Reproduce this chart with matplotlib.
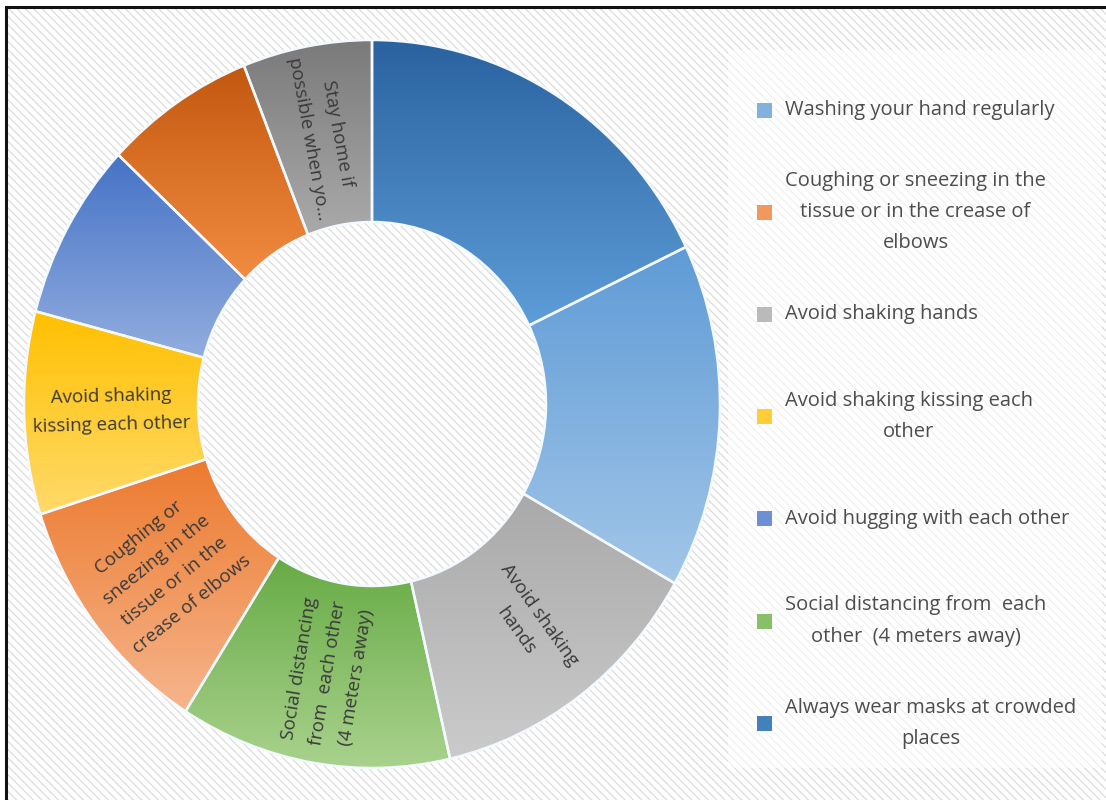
import numpy as np
import matplotlib
matplotlib.use("Agg")
import matplotlib.pyplot as plt
from matplotlib.patches import Rectangle
from matplotlib.colors import to_rgb

plt.rcParams["font.family"] = ["Open Sans", "DejaVu Sans"]
plt.rcParams["hatch.linewidth"] = 0.9

# Slices in drawing order, clockwise from 12 o'clock (shares in %)
slice_names = [
    "Always wear masks at crowded places",
    "Washing your hand regularly",
    "Avoid shaking hands",
    "Social distancing from  each other  (4 meters away)",
    "Coughing or sneezing in the tissue or in the crease of elbows",
    "Avoid shaking kissing each other",
    "Avoid hugging with each other",
    "Unlabelled",
    "Stay home if possible when you are sick",
]
slice_values = [17.9, 15.3, 13.2, 12.6, 11.1, 9.0, 7.9, 7.0, 6.0]

# Text written on the ring (None = no label on that slice)
slice_texts = [
    None,
    None,
    "Avoid shaking\nhands",
    "Social distancing\nfrom  each other\n(4 meters away)",
    "Coughing or\nsneezing in the\ntissue or in the\ncrease of elbows",
    "Avoid shaking\nkissing each other",
    None,
    None,
    "Stay home if\npossible when yo...",
]

# Legend entries (top to bottom)
legend_labels = [
    "Washing your hand regularly",
    "Coughing or sneezing in the\ntissue or in the crease of\nelbows",
    "Avoid shaking hands",
    "Avoid shaking kissing each\nother",
    "Avoid hugging with each other",
    "Social distancing from  each\nother  (4 meters away)",
    "Always wear masks at crowded\nplaces",
]
legend_slice = [1, 4, 2, 5, 6, 3, 0]

# Vertical gradient (top colour, bottom colour) for every slice
grad_top = ["#2a62a0", "#5f9bd6", "#a9a9a9", "#67ab45", "#ec7a2e",
            "#ffc000", "#4673c6", "#c2580f", "#7a7a7a"]
grad_bot = ["#5d9dd8", "#a2c6e8", "#cbcbcb", "#a9d28d", "#f6b58c",
            "#ffda6a", "#92addf", "#f28c40", "#aaaaaa"]

W, H = 1106, 800
fig = plt.figure(figsize=(W / 100, H / 100), dpi=100)
fig.patch.set_facecolor("white")

# Backdrop: striped chart area, legend panel and frame (pixel coordinates)
bg = fig.add_axes([0, 0, 1, 1], zorder=0)
bg.set_xlim(0, W)
bg.set_ylim(H, 0)
bg.axis("off")
bg.add_patch(Rectangle((6, 7), W + 50, H + 50, facecolor="white",
                       edgecolor="#dcdcdc", linewidth=0, hatch="\\\\\\\\"))
bg.add_patch(Rectangle((728, 50), 374, 718, facecolor="white",
                       edgecolor="none", alpha=0.6))
bg.plot([6, 6, W + 5], [H + 5, 7, 7], color="#111111", lw=2.2,
        solid_joinstyle="miter")

# Legend
row0, row_step = 110, 102.2
for i, (lab, si) in enumerate(zip(legend_labels, legend_slice)):
    yc = row0 + i * row_step
    c = (np.array(to_rgb(grad_top[si])) + np.array(to_rgb(grad_bot[si]))) / 2
    bg.add_patch(Rectangle((757, yc - 7.5), 15, 15, facecolor=c,
                           edgecolor="none"))
    bg.text(785, yc, lab, ha="left", va="center", multialignment="center",
            fontsize=14.5, color="#4d4d4d", linespacing=1.75)

# Doughnut
ax = fig.add_axes([0, 0, 1, 1], zorder=1)
ax.patch.set_alpha(0)
wedges, _ = ax.pie(slice_values, startangle=90, counterclock=False,
                   radius=1.0, wedgeprops=dict(width=0.5))

for w, ct, cb in zip(wedges, grad_top, grad_bot):
    bb = w.get_path().get_extents()
    t = np.linspace(0, 1, 256)[:, None]
    img = (1 - t) * np.array(to_rgb(ct)) + t * np.array(to_rgb(cb))
    im = ax.imshow(img[:, None, :], extent=(bb.x0, bb.x1, bb.y0, bb.y1),
                   origin="upper", aspect="auto", interpolation="bilinear",
                   zorder=2)
    im.set_clip_path(w)
    w.set_facecolor("none")
    w.set_edgecolor("#f4f9ff")
    w.set_linewidth(1.8)
    w.set_zorder(3)

# Pixel geometry of the ring: centre (372, 404), radii 348 x 364
cx, cy, rx, ry = 372, 404, 348, 364
ax.set_aspect("auto")
ax.set_xlim(-cx / rx, (W - cx) / rx)
ax.set_ylim(-(H - cy) / ry, cy / ry)
ax.axis("off")

for w, txt in zip(wedges, slice_texts):
    if txt is None:
        continue
    mid = np.deg2rad((w.theta1 + w.theta2) / 2)
    r = 0.75
    x, y = r * np.cos(mid), r * np.sin(mid)
    ang = np.degrees(np.arctan2(ry * np.sin(mid), rx * np.cos(mid)))
    rot = ang + 180 if np.cos(mid) < 0 else ang
    if rot > 180:
        rot -= 360
    ax.text(x, y, txt, ha="center", va="center", rotation=rot,
            rotation_mode="anchor", multialignment="center",
            fontsize=13.5, color="#3a3a3a", linespacing=1.75, zorder=5)

fig.savefig("out.png", dpi=100, facecolor="white")
